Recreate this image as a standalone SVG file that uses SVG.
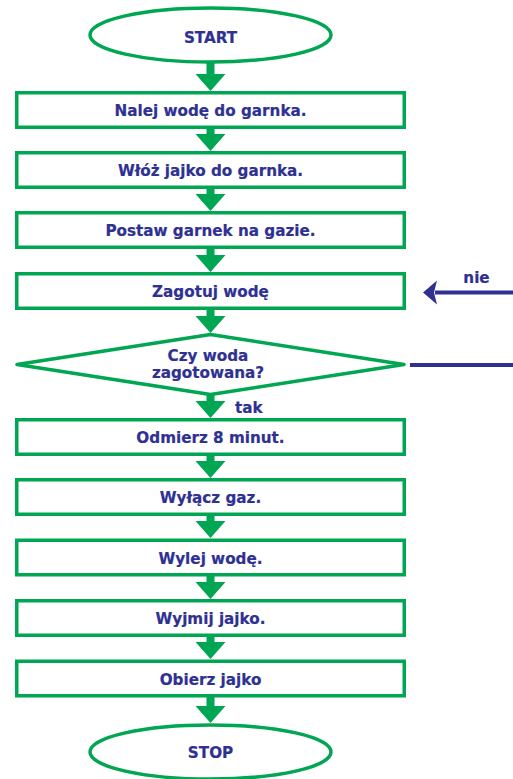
<svg xmlns="http://www.w3.org/2000/svg" width="513" height="779" viewBox="0 0 513 779">
<style>
.shape{fill:#ffffff;stroke:#00a651;stroke-width:3.5}
.dia{fill:#ffffff;stroke:#00a651;stroke-width:3.5;stroke-linejoin:round}
.t{font-family:"DejaVu Sans",sans-serif;font-weight:bold;font-size:15.2px;fill:#2e3192;stroke:#2e3192;stroke-width:0.2;text-anchor:middle}
.lbl{font-family:"DejaVu Sans",sans-serif;font-weight:bold;font-size:15.2px;fill:#2e3192;stroke:#2e3192;stroke-width:0.2}
.ga{fill:#00a651}
.bl{stroke:#2e3192;stroke-width:4;fill:none}
</style>
<rect width="513" height="779" fill="#ffffff"/>
<g id="connectors">
  <path class="ga" d="M206.5 62 H214.5 V74 H225.5 L210.5 91 L195.5 74 H206.5 Z"/>
  <path class="ga" d="M206.5 128 H214.5 V134 H225.5 L210.5 151 L195.5 134 H206.5 Z"/>
  <path class="ga" d="M206.5 188 H214.5 V194 H225.5 L210.5 211 L195.5 194 H206.5 Z"/>
  <path class="ga" d="M206.5 248 H214.5 V255 H225.5 L210.5 272 L195.5 255 H206.5 Z"/>
  <path class="ga" d="M206.5 308 H214.5 V316 H225.5 L210.5 333 L195.5 316 H206.5 Z"/>
  <path class="ga" d="M206.5 393 H214.5 V401 H225.5 L210.5 418 L195.5 401 H206.5 Z"/>
  <path class="ga" d="M206.5 455 H214.5 V461 H225.5 L210.5 478 L195.5 461 H206.5 Z"/>
  <path class="ga" d="M206.5 515 H214.5 V521 H225.5 L210.5 538 L195.5 521 H206.5 Z"/>
  <path class="ga" d="M206.5 576 H214.5 V582 H225.5 L210.5 599 L195.5 582 H206.5 Z"/>
  <path class="ga" d="M206.5 636 H214.5 V642 H225.5 L210.5 659 L195.5 642 H206.5 Z"/>
  <path class="ga" d="M206.5 697 H214.5 V706 H225.5 L210.5 723 L195.5 706 H206.5 Z"/>
  <line class="bl" x1="435" y1="292.5" x2="513" y2="292.5"/>
  <polygon fill="#2e3192" points="423,292.5 437,280.5 434,292.5 437,304.5"/>
  <line class="bl" x1="410" y1="365" x2="513" y2="365"/>
  <text class="lbl" x="476.5" y="283" text-anchor="middle">nie</text>
  <text class="lbl" x="235" y="412.5">tak</text>
</g>
<g id="start">
  <ellipse class="shape" cx="210.5" cy="35" rx="120.5" ry="27"/>
  <text class="t" x="210.5" y="42.5">START</text>
</g>
<g id="step1">
  <rect class="shape" x="16.75" y="92.75" width="387.5" height="34.5"/>
  <text class="t" x="210.5" y="115.5">Nalej wodę do garnka.</text>
</g>
<g id="step2">
  <rect class="shape" x="16.75" y="152.75" width="387.5" height="34.5"/>
  <text class="t" x="210.5" y="175.5">Włóż jajko do garnka.</text>
</g>
<g id="step3">
  <rect class="shape" x="16.75" y="212.75" width="387.5" height="34.5"/>
  <text class="t" x="210.5" y="235.5">Postaw garnek na gazie.</text>
</g>
<g id="step4">
  <rect class="shape" x="16.75" y="273.75" width="387.5" height="34.5"/>
  <text class="t" x="210.5" y="297">Zagotuj wodę</text>
</g>
<g id="decision">
  <polygon class="dia" points="17,364.5 210.5,334.5 404,364.5 210.5,394.5"/>
  <text class="t" x="208" y="361">Czy woda</text>
  <text class="t" x="208" y="378">zagotowana?</text>
</g>
<g id="step5">
  <rect class="shape" x="16.75" y="419.75" width="387.5" height="34.5"/>
  <text class="t" x="210.5" y="443">Odmierz 8 minut.</text>
</g>
<g id="step6">
  <rect class="shape" x="16.75" y="479.75" width="387.5" height="34.5"/>
  <text class="t" x="210.5" y="503">Wyłącz gaz.</text>
</g>
<g id="step7">
  <rect class="shape" x="16.75" y="540.25" width="387.5" height="34.5"/>
  <text class="t" x="210.5" y="563.5">Wylej wodę.</text>
</g>
<g id="step8">
  <rect class="shape" x="16.75" y="600.75" width="387.5" height="34.5"/>
  <text class="t" x="210.5" y="624">Wyjmij jajko.</text>
</g>
<g id="step9">
  <rect class="shape" x="16.75" y="661.25" width="387.5" height="34.5"/>
  <text class="t" x="210.5" y="684.5">Obierz jajko</text>
</g>
<g id="stop">
  <ellipse class="shape" cx="210.5" cy="752" rx="120.5" ry="27"/>
  <text class="t" x="210.5" y="757.5">STOP</text>
</g>
</svg>
